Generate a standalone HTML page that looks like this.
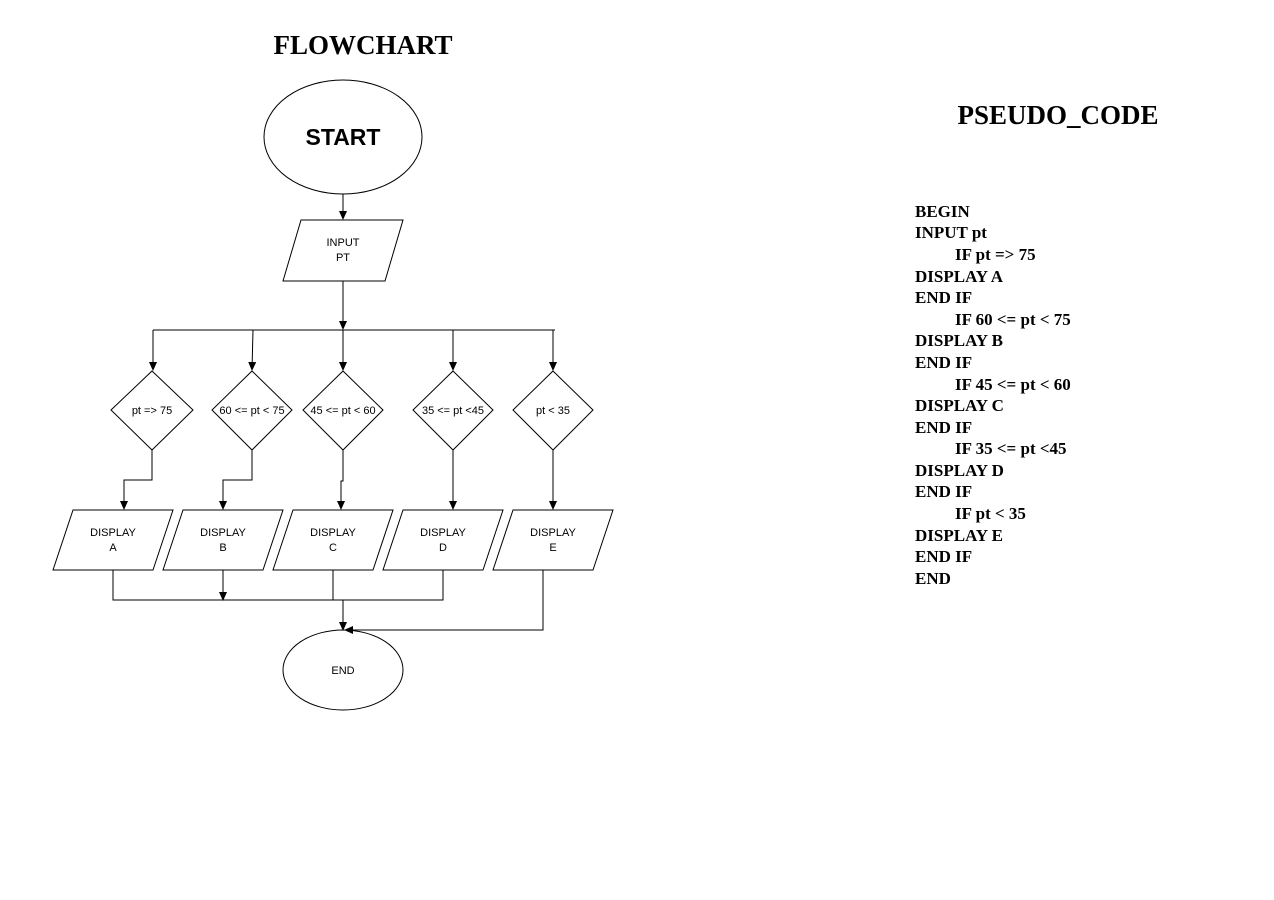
<!DOCTYPE html>
<html><head><meta charset="utf-8"><style>
html,body{margin:0;padding:0;background:#fff;}
svg{display:block;}
.s{font-family:"Liberation Sans",sans-serif;font-size:11px;fill:#000;}
.t{font-family:"Liberation Serif",serif;font-weight:bold;fill:#000;}
</style></head><body>
<svg width="1274" height="900" viewBox="0 0 1274 900" xmlns="http://www.w3.org/2000/svg">
<defs><marker id="a" markerWidth="10" markerHeight="10" refX="8" refY="5" orient="auto" markerUnits="userSpaceOnUse"><path d="M0,1 L9,5 L0,9 Z" fill="#000"/></marker></defs>
<text class="t" x="363" y="54" font-size="27" text-anchor="middle">FLOWCHART</text>
<text class="t" x="1058" y="124" font-size="27" text-anchor="middle">PSEUDO_CODE</text>
<g fill="none" stroke="#000" stroke-width="1">
<ellipse cx="343" cy="137" rx="79" ry="57"/>
<polygon points="301,220 403,220 385,281 283,281"/>
<line x1="343" y1="194" x2="343" y2="219" marker-end="url(#a)"/>
<line x1="343" y1="281" x2="343" y2="329" marker-end="url(#a)"/>
<line x1="153" y1="330" x2="555" y2="330"/>
<line x1="153" y1="330" x2="153" y2="370" marker-end="url(#a)"/>
<line x1="253" y1="330" x2="252" y2="370" marker-end="url(#a)"/>
<line x1="343" y1="330" x2="343" y2="370" marker-end="url(#a)"/>
<line x1="453" y1="330" x2="453" y2="370" marker-end="url(#a)"/>
<line x1="553" y1="330" x2="553" y2="370" marker-end="url(#a)"/>
<polygon points="152,371 193,410 152,450 111,410"/>
<polygon points="252,371 292,410 252,450 212,410"/>
<polygon points="343,371 383,410 343,450 303,410"/>
<polygon points="453,371 493,410 453,450 413,410"/>
<polygon points="553,371 593,410 553,450 513,410"/>
<polyline points="152,450 152,480 124,480 124,509" marker-end="url(#a)"/>
<polyline points="252,450 252,480 223,480 223,509" marker-end="url(#a)"/>
<polyline points="343,450 343,481 341,481 341,509" marker-end="url(#a)"/>
<line x1="453" y1="450" x2="453" y2="509" marker-end="url(#a)"/>
<line x1="553" y1="450" x2="553" y2="509" marker-end="url(#a)"/>
<polygon points="73,510 173,510 153,570 53,570"/>
<polygon points="183,510 283,510 263,570 163,570"/>
<polygon points="293,510 393,510 373,570 273,570"/>
<polygon points="403,510 503,510 483,570 383,570"/>
<polygon points="513,510 613,510 593,570 493,570"/>
<polyline points="113,570 113,600 443,600 443,570"/>
<line x1="223" y1="570" x2="223" y2="600" marker-end="url(#a)"/>
<line x1="333" y1="570" x2="333" y2="600"/>
<line x1="343" y1="600" x2="343" y2="630" marker-end="url(#a)"/>
<polyline points="543,570 543,630 345,630" marker-end="url(#a)"/>
<ellipse cx="343" cy="670" rx="60" ry="40"/>
</g>
<text x="343" y="145" text-anchor="middle" font-family="Liberation Sans,sans-serif" font-weight="bold" font-size="23">START</text>
<text class="s" x="343" y="246" text-anchor="middle">INPUT</text>
<text class="s" x="343" y="261" text-anchor="middle">PT</text>
<text class="s" x="152" y="414" text-anchor="middle">pt =&gt; 75</text>
<text class="s" x="252" y="414" text-anchor="middle">60 &lt;= pt &lt; 75</text>
<text class="s" x="343" y="414" text-anchor="middle">45 &lt;= pt &lt; 60</text>
<text class="s" x="453" y="414" text-anchor="middle">35 &lt;= pt &lt;45</text>
<text class="s" x="553" y="414" text-anchor="middle">pt &lt; 35</text>
<g class="s" text-anchor="middle">
<text x="113" y="536">DISPLAY</text><text x="113" y="551">A</text>
<text x="223" y="536">DISPLAY</text><text x="223" y="551">B</text>
<text x="333" y="536">DISPLAY</text><text x="333" y="551">C</text>
<text x="443" y="536">DISPLAY</text><text x="443" y="551">D</text>
<text x="553" y="536">DISPLAY</text><text x="553" y="551">E</text>
</g>
<text class="s" x="343" y="674" text-anchor="middle">END</text>
<g class="t" font-size="17">
<text x="915" y="217">BEGIN</text>
<text x="915" y="238">INPUT pt</text>
<text x="955" y="260">IF pt =&gt; 75</text>
<text x="915" y="282">DISPLAY A</text>
<text x="915" y="303">END IF</text>
<text x="955" y="325">IF 60 &lt;= pt &lt; 75</text>
<text x="915" y="346">DISPLAY B</text>
<text x="915" y="368">END IF</text>
<text x="955" y="390">IF 45 &lt;= pt &lt; 60</text>
<text x="915" y="411">DISPLAY C</text>
<text x="915" y="433">END IF</text>
<text x="955" y="454">IF 35 &lt;= pt &lt;45</text>
<text x="915" y="476">DISPLAY D</text>
<text x="915" y="497">END IF</text>
<text x="955" y="519">IF pt &lt; 35</text>
<text x="915" y="541">DISPLAY E</text>
<text x="915" y="562">END IF</text>
<text x="915" y="584">END</text>
</g>
</svg>
</body></html>
